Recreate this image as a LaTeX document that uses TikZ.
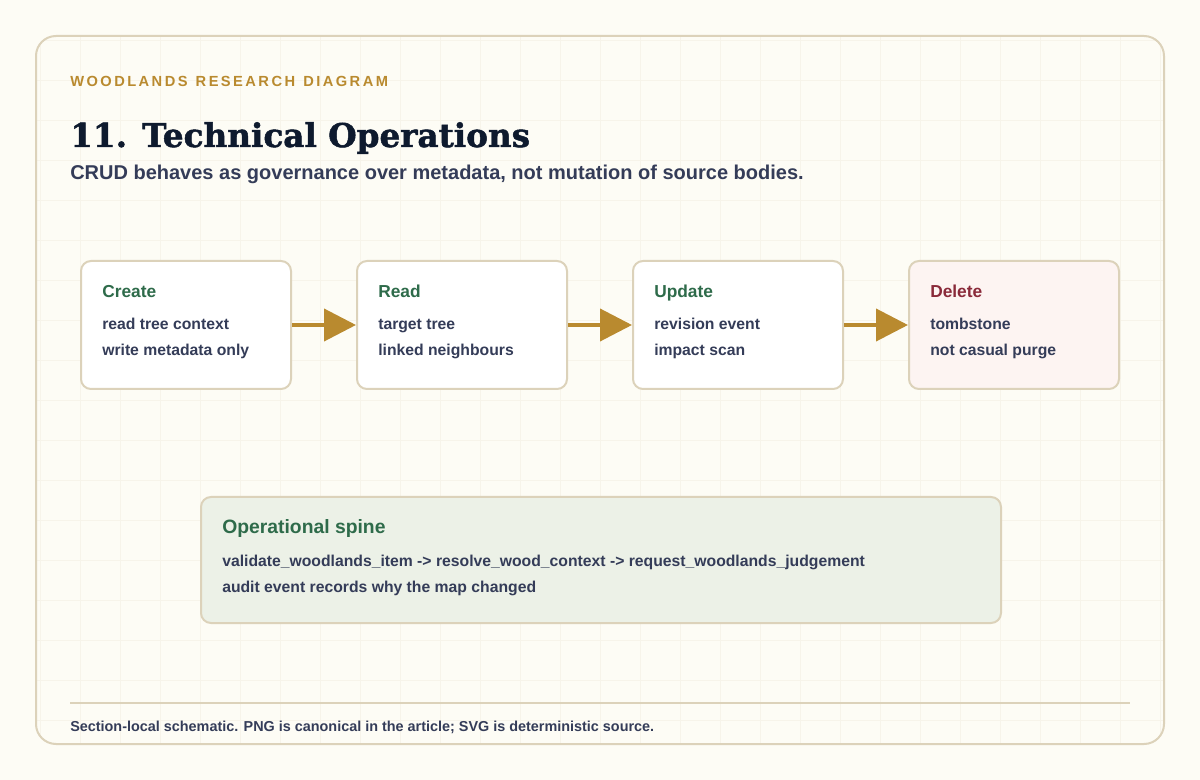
\documentclass[tikz,border=0pt]{standalone}
\usepackage{fontspec}
\setmainfont{Liberation Sans}
\newfontfamily\titlefont{DejaVu Serif Bold}[FakeBold=1.5]
\usetikzlibrary{arrows.meta}
\definecolor{bg}{HTML}{FDFCF5}
\definecolor{frame}{HTML}{DCD2BA}
\definecolor{gold}{HTML}{B98A2F}
\definecolor{navy}{HTML}{0E1A2E}
\definecolor{slate}{HTML}{343C58}
\definecolor{green}{HTML}{2E6B4A}
\definecolor{wine}{HTML}{8A2A3A}
\definecolor{pinkbg}{HTML}{FDF4F2}
\definecolor{greenbg}{HTML}{ECF1E7}
\definecolor{gridc}{HTML}{F7F4EA}
\begin{document}
\begin{tikzpicture}[x=0.75pt,y=-0.75pt,inner sep=0pt,
  card/.style={draw=frame,line width=1.5pt,rounded corners=7.5pt,fill=white,minimum width=157.5pt,minimum height=96pt,anchor=north west},
  ttl/.style={anchor=base west,font=\bfseries\fontsize{13}{15}\selectfont},
  body/.style={anchor=base west,font=\bfseries\fontsize{11.8}{13}\selectfont,text=slate},
  flow/.style={draw=gold,line width=3pt,-{Triangle[length=24pt,width=24pt]}}]
\fill[bg] (0,0) rectangle (1200,780);
\useasboundingbox (0,0) rectangle (1200,780);
\begin{scope}
\clip[rounded corners=15pt] (36,36) rectangle (1164,744);
\foreach \x in {40,80,...,1160} \draw[gridc,line width=0.5pt] (\x,36) -- (\x,744);
\foreach \y in {40,80,...,740} \draw[gridc,line width=0.5pt] (36,\y) -- (1164,\y);
\end{scope}
\draw[frame,line width=1.5pt,rounded corners=15pt] (36,36) rectangle (1164,744);
\node[anchor=base west,text=gold,font=\bfseries\fontsize{11}{13}\selectfont] (kicker) at (70,87) {W\,O\,O\,D\,L\,A\,N\,D\,S\ \ R\,E\,S\,E\,A\,R\,C\,H\ \ D\,I\,A\,G\,R\,A\,M};
\node[anchor=base west,text=navy,font=\titlefont\fontsize{24.5}{32}\selectfont] (title) at (70,147) {11. Technical Operations};
\node[anchor=base west,text=slate,font=\bfseries\fontsize{15}{18}\selectfont] (sub) at (70,180) {CRUD behaves as governance over metadata, not mutation of source bodies.};
\node[card] (c) at (80,260) {};
\node[card] (r) at (356,260) {};
\node[card] (u) at (632,260) {};
\node[card,fill=pinkbg] (d) at (908,260) {};
\foreach \n/\t/\a/\b/\col in {c/Create/read tree context/write metadata only/green, r/Read/target tree/linked neighbours/green, u/Update/revision event/impact scan/green, d/Delete/tombstone/not casual purge/wine}{
  \node[ttl,text=\col] (\n t) at ([xshift=16.5pt,yshift=-28.5pt]\n.north west) {\t};
  \node[body] (\n a) at ([xshift=16.5pt,yshift=-52pt]\n.north west) {\a};
  \node[body] (\n b) at ([xshift=16.5pt,yshift=-71.5pt]\n.north west) {\b};
}
\draw[flow] (c.east) -- (r.west);
\draw[flow] (r.east) -- (u.west);
\draw[flow] (u.east) -- (d.west);
\node[draw=frame,line width=1.5pt,rounded corners=7.5pt,fill=greenbg,minimum width=600pt,minimum height=94.5pt,anchor=north west] (s) at (200,496) {};
\node[ttl,text=green,font=\bfseries\fontsize{14.5}{16}\selectfont] (st) at (222,533) {Operational spine};
\node[body] (sa) at (222,566) {validate\_woodlands\_item -> resolve\_wood\_context -> request\_woodlands\_judgement};
\node[body] (sb) at (222,592) {audit event records why the map changed};
\draw[frame,line width=1pt] (70,703) -- (1130,703);
\node[anchor=base west,text=slate,font=\bfseries\fontsize{10.8}{12}\selectfont] (foot) at (70,731) {Section-local schematic. PNG is canonical in the article; SVG is deterministic source.};
\end{tikzpicture}
\end{document}
